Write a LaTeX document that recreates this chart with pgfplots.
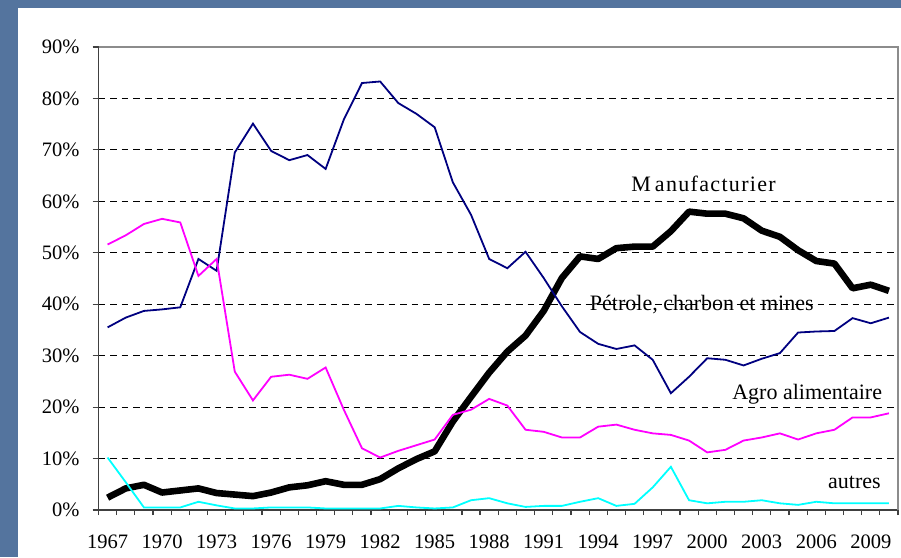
\documentclass[border=0pt]{standalone}
\usepackage{fontspec}
\setmainfont{Liberation Serif}
\usepackage{pgfplots}
\usepackage{pgfplotstable}
\pgfplotsset{compat=1.18}
\definecolor{bgblue}{RGB}{84,116,158}
\definecolor{petrole}{RGB}{0,0,128}
\definecolor{agro}{RGB}{255,0,255}
\definecolor{autres}{RGB}{0,255,255}
\newcommand{\chartfont}{\fontsize{10.25bp}{12bp}\selectfont}
\newcommand{\labelfont}{\fontsize{11bp}{13bp}\selectfont}

% parts (%) by year
\pgfplotstableread{
year petrole manuf agro autres
1967 35.5 2.4 51.6 10.2
1968 37.4 4.2 53.4 5.4
1969 38.7 4.9 55.6 0.5
1970 39.0 3.4 56.6 0.5
1971 39.4 3.8 55.9 0.5
1972 48.8 4.2 45.5 1.6
1973 46.5 3.3 48.8 0.9
1974 69.5 3.0 26.9 0.3
1975 75.1 2.7 21.3 0.3
1976 69.8 3.4 25.9 0.5
1977 68.0 4.4 26.3 0.5
1978 69.0 4.8 25.5 0.5
1979 66.3 5.6 27.7 0.3
1980 75.9 4.9 19.5 0.3
1981 83.0 4.9 12.0 0.3
1982 83.3 6.0 10.2 0.3
1983 79.1 8.1 11.5 0.8
1984 77.0 9.9 12.6 0.5
1985 74.4 11.4 13.7 0.3
1986 63.7 17.2 18.5 0.5
1987 57.4 22.0 19.5 1.9
1988 48.8 26.7 21.6 2.3
1989 47.0 30.8 20.3 1.3
1990 50.2 33.9 15.6 0.6
1991 45.1 38.7 15.2 0.8
1992 39.6 45.1 14.1 0.8
1993 34.6 49.3 14.1 1.6
1994 32.3 48.8 16.2 2.3
1995 31.3 50.9 16.6 0.8
1996 32.0 51.2 15.6 1.2
1997 29.2 51.2 14.9 4.4
1998 22.7 54.2 14.6 8.4
1999 25.9 58.0 13.5 1.9
2000 29.5 57.6 11.2 1.3
2001 29.2 57.6 11.7 1.6
2002 28.1 56.7 13.5 1.6
2003 29.4 54.3 14.1 1.9
2004 30.5 53.1 14.9 1.3
2005 34.5 50.5 13.7 1.0
2006 34.7 48.4 14.9 1.6
2007 34.8 47.9 15.6 1.3
2008 37.3 43.1 18.0 1.3
2009 36.3 43.8 18.0 1.3
2010 37.4 42.6 18.8 1.3
}\datatable

\begin{document}
\begin{tikzpicture}[x=1bp,y=1bp]
\path[use as bounding box] (0,0) rectangle (450.5,278.5);
\fill[bgblue] (0,0) rectangle (450.5,278.5);
\fill[white] (9,0) rectangle (450.5,274.5);
\begin{axis}[
    at={(49.25bp,23.5bp)}, anchor=south west,
    scale only axis,
    width=399.75bp, height=231.5bp,
    xmin=1966.5, xmax=2010.5,
    ymin=0, ymax=90,
    axis lines*=left,
    axis line style={draw=black!75, line width=0.9bp},
    tick align=outside,
    xtick={1967,1970,...,2009},
    xticklabels={1967,1970,1973,1976,1979,1982,1985,1988,1991,1994,1997,2000,2003,2006,2009},
    minor xtick={1966.5,1967.5,...,2010.5},
    major x tick style={draw=none},
    minor tick length=2.5bp,
    major tick length=3bp,
    tick style={black!75, line width=0.6bp},
    ytick={0,10,...,90},
    yticklabels={0\%,10\%,20\%,30\%,40\%,50\%,60\%,70\%,80\%,90\%},
    ymajorgrids,
    grid style={black, line width=0.5bp, dash pattern=on 3.3bp off 2.5bp},
    tick label style={font=\chartfont},
    xticklabel style={yshift=-6bp},
    yticklabel style={xshift=-3bp},
    /pgf/number format/assume math mode=true,
    clip=false,
]
\addplot[black, line width=3.3bp, line join=round] table[x=year, y=manuf] {\datatable};
\addplot[petrole, line width=0.9bp] table[x=year, y=petrole] {\datatable};
\addplot[agro, line width=0.9bp] table[x=year, y=agro] {\datatable};
\addplot[autres, line width=0.9bp] table[x=year, y=autres] {\datatable};
\draw[black!45, line width=0.9bp] (rel axis cs:0,1) -- (rel axis cs:1,1) -- (rel axis cs:1,0);
\node[font=\labelfont\addfontfeature{LetterSpace=6}] at (axis cs:1999.8,63.4) {M\hspace{2bp}anufacturier};
\node[font=\labelfont] at (axis cs:1999.7,39.9) {Pétrole, charbon et mines};
\node[font=\labelfont] at (axis cs:2005.5,22.6) {Agro alimentaire};
\node[font=\labelfont] at (axis cs:2008.1,5.3) {autres};
\end{axis}
\end{tikzpicture}
\end{document}
